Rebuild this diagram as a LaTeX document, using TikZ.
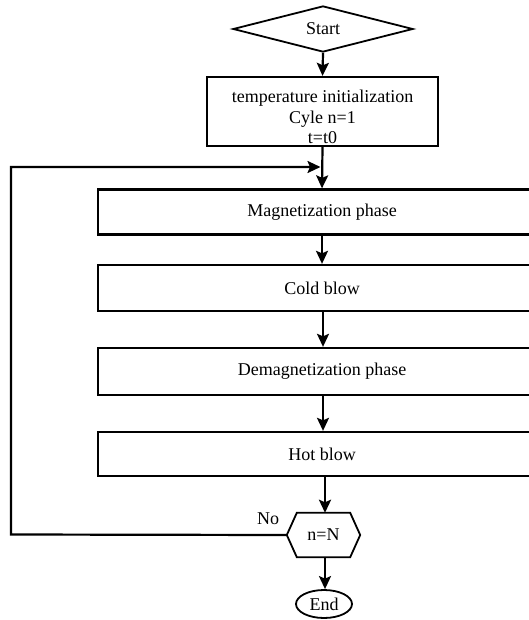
\documentclass[tikz,border=0pt]{standalone}
\usepackage{fontspec}
\setmainfont{Liberation Serif}
\usetikzlibrary{shapes.geometric,arrows.meta,calc}
\begin{document}
\begin{tikzpicture}[x=1bp,y=-1bp,
  every node/.style={font=\fontsize{18bp}{20.5bp}\selectfont, inner sep=0pt},
  box/.style={draw, line width=2.3bp, rectangle, align=center},
  phase/.style={box, minimum width=448bp},
  arr/.style={line width=2.2bp, -{Stealth[length=13bp,width=12bp,inset=2.5bp]}},
  ln/.style={line width=2bp}]
\useasboundingbox (0,0) rectangle (529,620);
\clip (0,0) rectangle (529,620);
\node[draw, line width=1.8bp, shape=diamond, minimum width=180bp, minimum height=46bp] (start) at (323,29) {Start};
\node[box, minimum width=231bp, minimum height=69bp] (init) at (322.5,111.5) {};
\node[align=center] (inittext) at (322.5,117) {temperature initialization\\Cyle n=1\\t=t0};
\node[phase, minimum height=45bp] (mag) at (322,212) {Magnetization phase};
\node[phase, minimum height=46bp] (cold) at (322,288) {Cold blow};
\node[phase, minimum height=47bp] (demag) at (322,371.5) {Demagnetization phase};
\node[phase, minimum height=44bp] (hot) at (322,454) {Hot blow};
\node[minimum width=73bp, minimum height=44bp] (hex) at (323.5,535) {n=N};
\draw[line width=1.8bp] (hex.west) -- ($(hex.north west)+(10,0)$) -- ($(hex.north east)+(-10,0)$) -- (hex.east) -- ($(hex.south east)+(-10,0)$) -- ($(hex.south west)+(10,0)$) -- cycle;
\node[draw, line width=1.8bp, ellipse, minimum width=56bp, minimum height=28bp] (end) at (324,604) {End};
\node (no) at (268,519) {No};
\coordinate (c1) at (11,534.5);
\coordinate (c2) at (11,167);
\coordinate (c3) at (320.5,167);
\draw[arr] (start.south) -- (init.north);
\draw[arr] (init.south) -- (mag.north);
\draw[arr] (mag.south) -- (cold.north);
\draw[arr] (cold.south -| 323,0) -- (demag.north -| 323,0);
\draw[arr] (demag.south -| 323,0) -- (hot.north -| 323,0);
\draw[arr, line width=2.7bp] (hot.south -| 325,0) -- (hex.north -| 325,0);
\draw[arr] (hex.south -| 325,0) -- (end.north -| 325,0);
\draw[arr] (hex.west) -- (c1) -- (c2) -- (c3);
\end{tikzpicture}
\end{document}
